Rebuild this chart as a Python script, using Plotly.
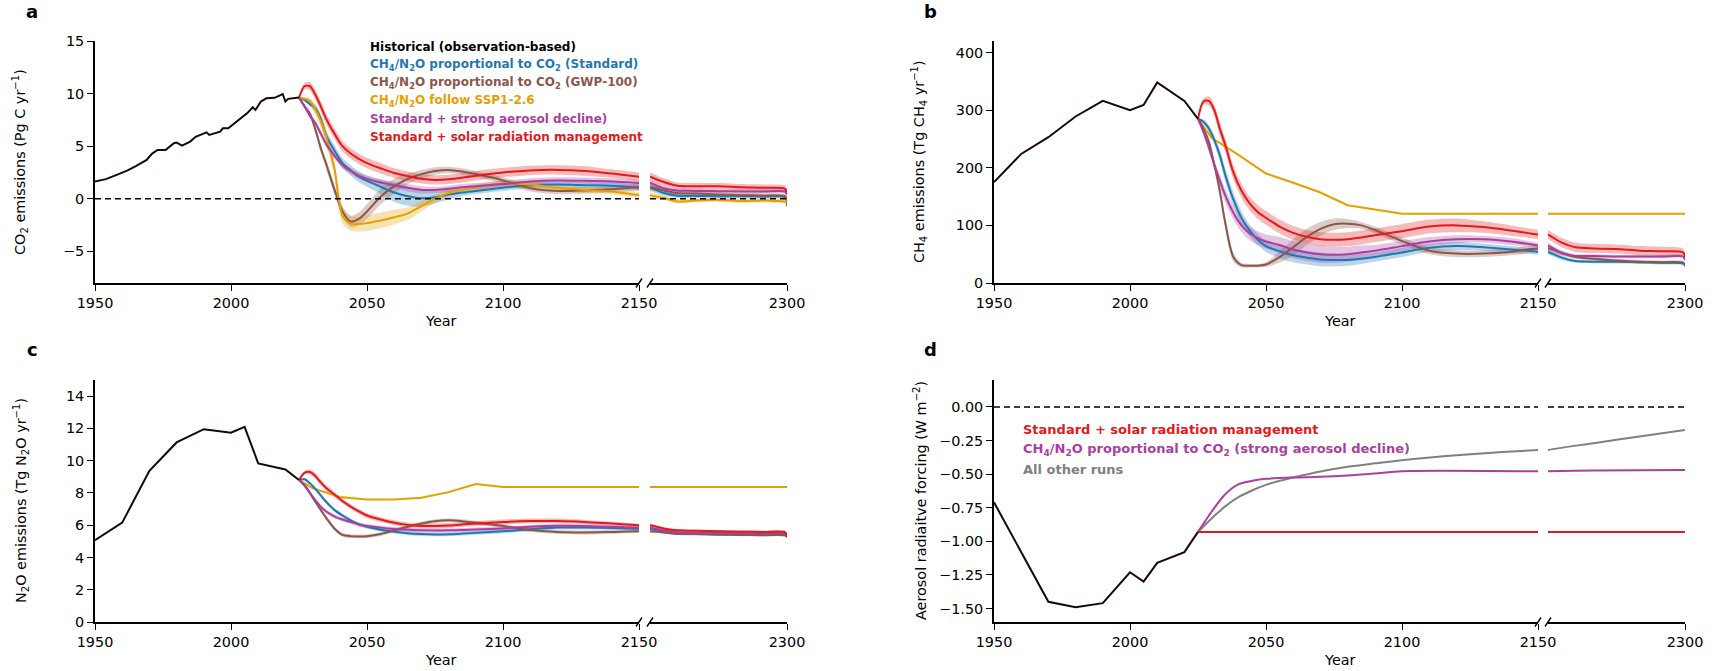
import plotly.graph_objects as go

FONT = "DejaVu Sans"
W, H = 1715, 671

C_HIST = "#1a0606"
C_BLUE = "#1f77b4"
C_BROWN = "#8c564b"
C_ORANGE = "#e69f00"
C_PURPLE = "#aa3fa0"
C_RED = "#e31a1c"
C_GREY = "#808080"

# ---------------- data ----------------
scen_years = [2025, 2027, 2029, 2031, 2033, 2035, 2038, 2041, 2044, 2047, 2050, 2055, 2060, 2065,
              2070, 2075, 2080, 2085, 2090, 2100, 2110, 2120, 2130, 2140, 2150, 2165, 2180, 2200,
              2225, 2250, 2275, 2298, 2300]

# Panel a: CO2 emissions (Pg C / yr)
co2_hist_years = [1950, 1954, 1958, 1962, 1965, 1969, 1971, 1973, 1976, 1979, 1980, 1982, 1985, 1987,
                  1991, 1992, 1996, 1997, 1999, 2003, 2006, 2008, 2009, 2011, 2013, 2016, 2019, 2020,
                  2021, 2025]
co2_hist = [1.64, 1.87, 2.28, 2.7, 3.1, 3.7, 4.3, 4.65, 4.65, 5.28, 5.34, 5.06, 5.44, 5.9,
            6.32, 6.07, 6.39, 6.7, 6.7, 7.5, 8.15, 8.7, 8.44, 9.25, 9.55, 9.6, 9.96, 9.25,
            9.5, 9.62]
co2_blue = [9.6, 9.4, 9.0, 8.6, 7.6, 6.0, 4.6, 3.4, 2.7, 2.1, 1.7, 1.15, 0.6, 0.25, 0.05, 0.15, 0.4,
            0.6, 0.75, 1.05, 1.3, 1.35, 1.3, 1.25, 1.05, 0.55, 0.3, 0.28, 0.25, 0.25, 0.22, 0.2, 0.0]
co2_brown = [9.6, 8.8, 8.1, 6.6, 4.8, 3.3, 0.9, -1.2, -2.15, -1.9, -1.2, 0.2, 1.2, 1.9, 2.35, 2.65,
             2.75, 2.6, 2.35, 1.75, 1.0, 0.75, 0.8, 0.9, 1.1, 0.8, 0.55, 0.5, 0.42, 0.35, 0.3, 0.2, -0.7]
co2_orange = [9.6, 9.5, 9.3, 8.5, 7.4, 5.9, 2.9, -1.6, -2.35, -2.4, -2.3, -2.05, -1.75, -1.4, -0.7,
              0.0, 0.55, 0.85, 1.1, 1.45, 1.35, 1.05, 0.85, 0.7, 0.35, 0.1, -0.25, -0.15, -0.1, -0.2,
              -0.15, -0.25, -0.25]
co2_purple = [9.6, 8.8, 7.9, 7.2, 6.2, 5.2, 4.1, 3.2, 2.65, 2.2, 1.9, 1.55, 1.3, 1.05, 0.85, 0.85,
              0.95, 1.1, 1.2, 1.4, 1.65, 1.75, 1.72, 1.65, 1.5, 1.0, 0.8, 0.75, 0.72, 0.7, 0.7, 0.68, 0.4]
co2_red = [9.6, 10.7, 10.7, 9.9, 8.8, 7.6, 6.2, 5.0, 4.3, 3.8, 3.4, 2.9, 2.45, 2.15, 1.9, 1.8, 1.85,
           2.0, 2.2, 2.5, 2.7, 2.75, 2.65, 2.4, 2.1, 1.6, 1.25, 1.2, 1.2, 1.1, 1.05, 0.95, 0.5]
co2_blue_hw = [0, 0.15, 0.25, 0.35, 0.45, 0.5, 0.5, 0.5, 0.5, 0.5, 0.55, 0.7, 0.9, 0.9, 0.8, 0.6,
               0.45, 0.35, 0.3, 0.3, 0.3, 0.3, 0.3, 0.3, 0.3, 0.25, 0.2, 0.2, 0.2, 0.2, 0.2, 0.2, 0.2]
co2_brown_hw = [0, 0.2, 0.3, 0.35, 0.4, 0.45, 0.5, 0.5, 0.55, 0.6, 0.7, 0.75, 0.7, 0.5, 0.4, 0.35,
                0.3, 0.3, 0.3, 0.3, 0.3, 0.3, 0.3, 0.3, 0.3, 0.25, 0.2, 0.2, 0.2, 0.2, 0.2, 0.2, 0.2]
co2_orange_hw = [0, 0.15, 0.3, 0.5, 0.7, 0.8, 0.8, 0.8, 0.7, 0.7, 0.75, 0.75, 0.7, 0.6, 0.5, 0.4,
                 0.35, 0.3, 0.3, 0.3, 0.3, 0.3, 0.3, 0.3, 0.3, 0.2, 0.2, 0.2, 0.2, 0.2, 0.2, 0.2, 0.2]
co2_purple_hw = [0, 0.15, 0.25, 0.3, 0.3, 0.3, 0.3, 0.3, 0.3, 0.3, 0.3, 0.3, 0.3, 0.35, 0.35, 0.3,
                 0.3, 0.3, 0.3, 0.3, 0.3, 0.3, 0.3, 0.3, 0.3, 0.25, 0.2, 0.2, 0.2, 0.2, 0.2, 0.2, 0.2]
co2_red_hw = [0, 0.3, 0.4, 0.45, 0.5, 0.5, 0.5, 0.5, 0.5, 0.5, 0.5, 0.5, 0.45, 0.45, 0.45, 0.45,
              0.45, 0.45, 0.45, 0.45, 0.45, 0.45, 0.45, 0.4, 0.4, 0.35, 0.3, 0.3, 0.3, 0.3, 0.3, 0.3, 0.3]

# Panel b: CH4 emissions (Tg CH4 / yr)
ch4_hist_years = [1950, 1960, 1970, 1980, 1990, 2000, 2005, 2010, 2020, 2025]
ch4_hist = [175, 224, 253, 289, 316, 300, 309, 348, 316, 285]
ch4_blue = [285, 280, 268, 248, 222, 188, 145, 113, 91, 75, 64, 55, 48, 44, 41, 40, 40, 42, 45, 53,
            61, 64, 62, 58, 54, 44, 38, 37, 37, 36, 35, 34, 30]
ch4_brown = [285, 268, 245, 205, 160, 105, 45, 31, 30, 30, 32, 45, 62, 80, 94, 102, 103, 100, 92, 73,
             56, 51, 51, 54, 60, 52, 45, 42, 39, 37, 36, 35, 30]
ch4_purple = [285, 262, 235, 205, 178, 152, 122, 100, 86, 78, 72, 66, 58, 53, 50, 49, 50, 53, 56, 64,
              72, 76, 76, 72, 65, 52, 47, 47, 46, 46, 46, 46, 40]
ch4_red = [285, 315, 316, 300, 268, 240, 192, 160, 138, 123, 113, 98, 87, 80, 76, 75, 76, 79, 83, 90,
           98, 100, 97, 91, 84, 70, 62, 60, 59, 56, 55, 53, 45]
ch4_ssp_years = [2025, 2030, 2040, 2050, 2060, 2070, 2080, 2090, 2100, 2150, 2300]
ch4_ssp = [285, 252, 222, 190, 174, 157, 135, 128, 120, 120, 120]
ch4_blue_hw = [0, 4, 6, 8, 10, 12, 12, 12, 10, 10, 10, 12, 12, 12, 12, 11, 10, 9, 8, 8, 7, 7, 6, 6,
               5, 4, 3, 3, 3, 3, 3, 3, 3]
ch4_brown_hw = [0, 4, 6, 8, 10, 10, 8, 4, 3, 3, 4, 10, 14, 14, 12, 10, 8, 6, 6, 6, 6, 6, 6, 6, 6, 4,
                3, 3, 3, 3, 3, 3, 3]
ch4_purple_hw = [0, 4, 6, 8, 10, 12, 12, 12, 12, 12, 12, 14, 15, 15, 15, 14, 13, 12, 10, 9, 8, 7, 6,
                 6, 5, 4, 3, 3, 3, 3, 3, 3, 3]
ch4_red_hw = [0, 5, 8, 10, 12, 12, 12, 12, 12, 12, 12, 12, 12, 12, 12, 12, 12, 12, 12, 12, 12, 12, 10,
              9, 8, 8, 8, 8, 8, 8, 8, 7, 7]

# Panel c: N2O emissions (Tg N2O / yr)
n2o_hist_years = [1950, 1960, 1970, 1980, 1990, 2000, 2005, 2010, 2020, 2025]
n2o_hist = [5.07, 6.16, 9.37, 11.13, 11.95, 11.73, 12.1, 9.83, 9.45, 8.8]
n2o_blue = [8.8, 8.85, 8.6, 8.25, 7.85, 7.45, 6.95, 6.6, 6.3, 6.05, 5.9, 5.72, 5.6, 5.5, 5.45, 5.43,
            5.44, 5.48, 5.53, 5.62, 5.75, 5.85, 5.85, 5.82, 5.78, 5.6, 5.47, 5.45, 5.43, 5.42, 5.41, 5.4, 5.35]
n2o_brown = [8.8, 8.5, 8.0, 7.45, 6.95, 6.45, 5.8, 5.4, 5.32, 5.3, 5.32, 5.45, 5.68, 5.9, 6.1, 6.25,
             6.3, 6.25, 6.15, 5.95, 5.7, 5.58, 5.55, 5.58, 5.62, 5.55, 5.47, 5.45, 5.42, 5.4, 5.38, 5.37, 5.25]
n2o_purple = [8.8, 8.45, 8.0, 7.55, 7.15, 6.85, 6.55, 6.35, 6.2, 6.05, 5.95, 5.85, 5.77, 5.72, 5.68,
              5.67, 5.68, 5.7, 5.74, 5.8, 5.9, 5.96, 5.95, 5.9, 5.85, 5.68, 5.56, 5.53, 5.52, 5.5, 5.5, 5.5, 5.4]
n2o_red = [8.8, 9.25, 9.3, 9.05, 8.65, 8.3, 7.9, 7.5, 7.15, 6.85, 6.6, 6.35, 6.15, 6.02, 5.95, 5.95,
           5.98, 6.05, 6.1, 6.2, 6.26, 6.26, 6.2, 6.1, 6.0, 5.8, 5.68, 5.65, 5.62, 5.6, 5.58, 5.56, 5.3]
n2o_ssp_years = [2025, 2030, 2040, 2050, 2060, 2070, 2080, 2090, 2100, 2150, 2300]
n2o_ssp = [8.8, 8.3, 7.75, 7.6, 7.6, 7.7, 8.05, 8.55, 8.37, 8.37, 8.37]
n2o_hw = [0, 0.08, 0.1, 0.12, 0.12, 0.12, 0.12, 0.12, 0.12, 0.12, 0.12, 0.12, 0.12, 0.12, 0.12, 0.12,
          0.12, 0.12, 0.12, 0.12, 0.12, 0.12, 0.12, 0.12, 0.1, 0.08, 0.08, 0.08, 0.08, 0.08, 0.08, 0.08, 0.08]
n2o_red_hw = [0, 0.1, 0.15, 0.18, 0.18, 0.18, 0.18, 0.16, 0.15, 0.15, 0.15, 0.15, 0.15, 0.15, 0.15,
              0.15, 0.15, 0.15, 0.15, 0.15, 0.15, 0.15, 0.12, 0.12, 0.1, 0.08, 0.08, 0.08, 0.08, 0.08,
              0.08, 0.08, 0.08]

# Panel d: aerosol radiative forcing (W m-2)
aer_hist_years = [1950, 1970, 1980, 1990, 2000, 2005, 2010, 2020, 2025]
aer_hist = [-0.71, -1.45, -1.49, -1.46, -1.23, -1.30, -1.16, -1.08, -0.93]
aer_srm_years = [2025, 2150, 2300]
aer_srm = [-0.93, -0.93, -0.93]
aer_strong_years = [2025, 2030, 2035, 2040, 2045, 2050, 2060, 2070, 2080, 2090, 2100, 2150, 2200, 2300]
aer_strong = [-0.93, -0.78, -0.65, -0.575, -0.55, -0.535, -0.525, -0.52, -0.51, -0.495, -0.478,
              -0.478, -0.473, -0.47]
aer_other_years = [2025, 2030, 2035, 2040, 2045, 2050, 2055, 2060, 2070, 2080, 2090, 2100, 2120, 2150,
                   2200, 2250, 2300]
aer_other = [-0.93, -0.83, -0.74, -0.67, -0.62, -0.58, -0.55, -0.525, -0.48, -0.445, -0.42, -0.397,
             -0.36, -0.32, -0.27, -0.22, -0.172]

left_ticks = [1950, 2000, 2050, 2100, 2150]
right_ticks = [2300]

# ---------------- figure ----------------
fig = go.Figure()
AX = [("x", "y", "x2", "y2"), ("x3", "y3", "x4", "y4"), ("x5", "y5", "x6", "y6"), ("x7", "y7", "x8", "y8")]


def rgba(hexc, a):
    h = hexc.lstrip("#")
    return "rgba(%d,%d,%d,%.2f)" % (int(h[0:2], 16), int(h[2:4], 16), int(h[4:6], 16), a)


def add_band(p, xs, ys, hw, color, alpha=0.3):
    lo = [v - w for v, w in zip(ys, hw)]
    hi = [v + w for v, w in zip(ys, hw)]
    for xa, ya in ((AX[p][0], AX[p][1]), (AX[p][2], AX[p][3])):
        fig.add_trace(go.Scatter(x=xs, y=lo, xaxis=xa, yaxis=ya, mode="lines",
                                 line=dict(width=0, shape="spline", smoothing=0.8),
                                 hoverinfo="skip", showlegend=False))
        fig.add_trace(go.Scatter(x=xs, y=hi, xaxis=xa, yaxis=ya, mode="lines", fill="tonexty",
                                 fillcolor=rgba(color, alpha),
                                 line=dict(width=0, shape="spline", smoothing=0.8),
                                 hoverinfo="skip", showlegend=False))


def add_line(p, xs, ys, color, width=2.0, shape="spline"):
    for xa, ya in ((AX[p][0], AX[p][1]), (AX[p][2], AX[p][3])):
        ln = dict(color=color, width=width, shape=shape)
        if shape == "spline":
            ln["smoothing"] = 0.8
        fig.add_trace(go.Scatter(x=xs, y=ys, xaxis=xa, yaxis=ya, mode="lines", line=ln,
                                 showlegend=False))


# panel a
add_band(0, scen_years, co2_blue, co2_blue_hw, C_BLUE)
add_band(0, scen_years, co2_brown, co2_brown_hw, C_BROWN)
add_band(0, scen_years, co2_orange, co2_orange_hw, C_ORANGE)
add_band(0, scen_years, co2_purple, co2_purple_hw, C_PURPLE)
add_band(0, scen_years, co2_red, co2_red_hw, C_RED)
add_line(0, scen_years, co2_blue, C_BLUE)
add_line(0, scen_years, co2_brown, C_BROWN)
add_line(0, scen_years, co2_orange, C_ORANGE)
add_line(0, scen_years, co2_purple, C_PURPLE)
add_line(0, scen_years, co2_red, C_RED)
add_line(0, co2_hist_years, co2_hist, C_HIST, shape="linear")

# panel b
add_band(1, scen_years, ch4_blue, ch4_blue_hw, C_BLUE)
add_band(1, scen_years, ch4_brown, ch4_brown_hw, C_BROWN)
add_band(1, scen_years, ch4_purple, ch4_purple_hw, C_PURPLE)
add_band(1, scen_years, ch4_red, ch4_red_hw, C_RED)
add_line(1, ch4_ssp_years, ch4_ssp, C_ORANGE, shape="linear")
add_line(1, scen_years, ch4_blue, C_BLUE)
add_line(1, scen_years, ch4_brown, C_BROWN)
add_line(1, scen_years, ch4_purple, C_PURPLE)
add_line(1, scen_years, ch4_red, C_RED)
add_line(1, ch4_hist_years, ch4_hist, C_HIST, shape="linear")

# panel c
add_band(2, scen_years, n2o_blue, n2o_hw, C_BLUE)
add_band(2, scen_years, n2o_brown, n2o_hw, C_BROWN)
add_band(2, scen_years, n2o_purple, n2o_hw, C_PURPLE)
add_band(2, scen_years, n2o_red, n2o_red_hw, C_RED)
add_line(2, n2o_ssp_years, n2o_ssp, C_ORANGE, shape="linear")
add_line(2, scen_years, n2o_blue, C_BLUE)
add_line(2, scen_years, n2o_brown, C_BROWN)
add_line(2, scen_years, n2o_purple, C_PURPLE)
add_line(2, scen_years, n2o_red, C_RED)
add_line(2, n2o_hist_years, n2o_hist, C_HIST, shape="linear")

# panel d
add_line(3, aer_other_years, aer_other, C_GREY)
add_line(3, aer_strong_years, aer_strong, C_PURPLE)
add_line(3, aer_srm_years, aer_srm, C_RED, shape="linear")
add_line(3, aer_hist_years, aer_hist, C_HIST, shape="linear")

# ---------------- axes ----------------
def px(v):
    return v / W


def py(v):
    return 1 - v / H


XL_A = [px(95), px(639)]
XR_A = [px(650), px(787)]
XL_B = [px(994), px(1538)]
XR_B = [px(1548), px(1685)]
Y_TOP = [py(283), py(41)]
Y_BOT = [py(622), py(380)]

tickfont = dict(family=FONT, size=14.4, color="black")
common = dict(showline=True, linecolor="black", linewidth=1.8, ticks="outside", ticklen=6,
              tickwidth=1.4, tickcolor="black", showgrid=False, zeroline=False, tickfont=tickfont,
              automargin=False)

yinfo = [
    (Y_TOP, [-8, 15], [-5, 0, 5, 10, 15], None),
    (Y_TOP, [0, 420], [0, 100, 200, 300, 400], None),
    (Y_BOT, [0, 15], [0, 2, 4, 6, 8, 10, 12, 14], None),
    (Y_BOT, [-1.6, 0.2], [-1.5, -1.25, -1.0, -0.75, -0.5, -0.25, 0.0], ".2f"),
]
xdoms = [(XL_A, XR_A), (XL_B, XR_B), (XL_A, XR_A), (XL_B, XR_B)]

lay = {}
for i in range(4):
    (xl, yl, xr, yr) = AX[i]
    ydom, yr_rng, yticks, yfmt = yinfo[i]
    xld, xrd = xdoms[i]
    nl = xl[1:] if len(xl) > 1 else ""
    nr = xr[1:]
    ylk = "yaxis" + (yl[1:] if len(yl) > 1 else "")
    yrk = "yaxis" + yr[1:]
    lay["xaxis" + nl] = dict(domain=xld, range=[1950, 2150], tickvals=left_ticks, anchor=yl, **common)
    lay["xaxis" + nr] = dict(domain=xrd, range=[2150, 2300], tickvals=right_ticks, anchor=yr, **common)
    yc = dict(domain=ydom, range=yr_rng, tickvals=yticks, anchor=xl, **common)
    if yfmt:
        yc["tickformat"] = yfmt
    lay[ylk] = yc
    lay[yrk] = dict(domain=ydom, range=yr_rng, anchor=xr, visible=False, showgrid=False,
                    zeroline=False, automargin=False)

fig.update_layout(**lay)

# ---------------- shapes ----------------
shapes = []
for (xa, ya) in (("x", "y"), ("x2", "y2"), ("x7", "y7"), ("x8", "y8")):
    shapes.append(dict(type="line", xref=xa + " domain", yref=ya, x0=0, x1=1, y0=0, y1=0,
                       line=dict(color="black", width=1.5, dash="6px,4px"), layer="above"))
# axis break marks
for i in range(4):
    xl, yl, xr, yr = AX[i]
    shapes.append(dict(type="line", xref=xl + " domain", yref=yl + " domain",
                       x0=1 - 3 / 544, x1=1 + 3 / 544, y0=-4.5 / 242, y1=4.5 / 242,
                       line=dict(color="black", width=1.4)))
    shapes.append(dict(type="line", xref=xr + " domain", yref=yr + " domain",
                       x0=-3 / 137, x1=3 / 137, y0=-4.5 / 242, y1=4.5 / 242,
                       line=dict(color="black", width=1.4)))

# ---------------- annotations ----------------
ann = []
for lab, x, y in (("a", 32, 12), ("b", 931, 12), ("c", 32, 349), ("d", 931, 349)):
    ann.append(dict(text="<b>%s</b>" % lab, x=px(x), y=py(y), xref="paper", yref="paper",
                    showarrow=False, xanchor="center", yanchor="middle",
                    font=dict(family=FONT, size=18, color="black")))
for x, y in ((441, 321), (1339.5, 321), (441, 660), (1339.5, 660)):
    ann.append(dict(text="Year", x=px(x), y=py(y), xref="paper", yref="paper", showarrow=False,
                    xanchor="center", yanchor="middle", font=dict(family=FONT, size=14.4, color="black")))
ytitles = [
    ("CO<sub>2</sub> emissions (Pg C yr<sup>−1</sup>)", 20, 162),
    ("CH<sub>4</sub> emissions (Tg CH<sub>4</sub> yr<sup>−1</sup>)", 919, 162),
    ("N<sub>2</sub>O emissions (Tg N<sub>2</sub>O yr<sup>−1</sup>)", 21, 501),
    ("Aerosol radiaitve forcing (W m<sup>−2</sup>)", 920, 501),
]
for t, x, y in ytitles:
    ann.append(dict(text=t, x=px(x), y=py(y), xref="paper", yref="paper", showarrow=False,
                    textangle=-90, xanchor="center", yanchor="middle",
                    font=dict(family=FONT, size=14.4, color="black")))

legend_a = [
    ("Historical (observation-based)", "black"),
    ("CH<sub>4</sub>/N<sub>2</sub>O proportional to CO<sub>2</sub> (Standard)", C_BLUE),
    ("CH<sub>4</sub>/N<sub>2</sub>O proportional to CO<sub>2</sub> (GWP-100)", C_BROWN),
    ("CH<sub>4</sub>/N<sub>2</sub>O follow SSP1-2.6", C_ORANGE),
    ("Standard + strong aerosol decline)", C_PURPLE),
    ("Standard + solar radiation management", C_RED),
]
for k, (t, c) in enumerate(legend_a):
    ann.append(dict(text="<b>%s</b>" % t, x=px(367.5), y=py(46.7 + 18 * k), xref="paper", yref="paper",
                    showarrow=False, xanchor="left", yanchor="middle",
                    font=dict(family=FONT, size=12, color=c)))
legend_d = [
    ("Standard + solar radiation management", C_RED),
    ("CH<sub>4</sub>/N<sub>2</sub>O proportional to CO<sub>2</sub> (strong aerosol decline)", C_PURPLE),
    ("All other runs", C_GREY),
]
for k, (t, c) in enumerate(legend_d):
    ann.append(dict(text="<b>%s</b>" % t, x=px(1021), y=py(429.3 + 20 * k), xref="paper", yref="paper",
                    showarrow=False, xanchor="left", yanchor="middle",
                    font=dict(family=FONT, size=13, color=c)))

fig.update_layout(template="none", width=W, height=H, autosize=False,
                  margin=dict(l=0, r=0, t=0, b=0, pad=0, autoexpand=False),
                  paper_bgcolor="white", plot_bgcolor="white", showlegend=False, shapes=shapes,
                  annotations=ann, font=dict(family=FONT, color="black"))

fig.write_html("out.html", config={"displayModeBar": False, "responsive": False},
               post_script="document.body.style.margin='0';document.body.style.overflow='hidden';")
